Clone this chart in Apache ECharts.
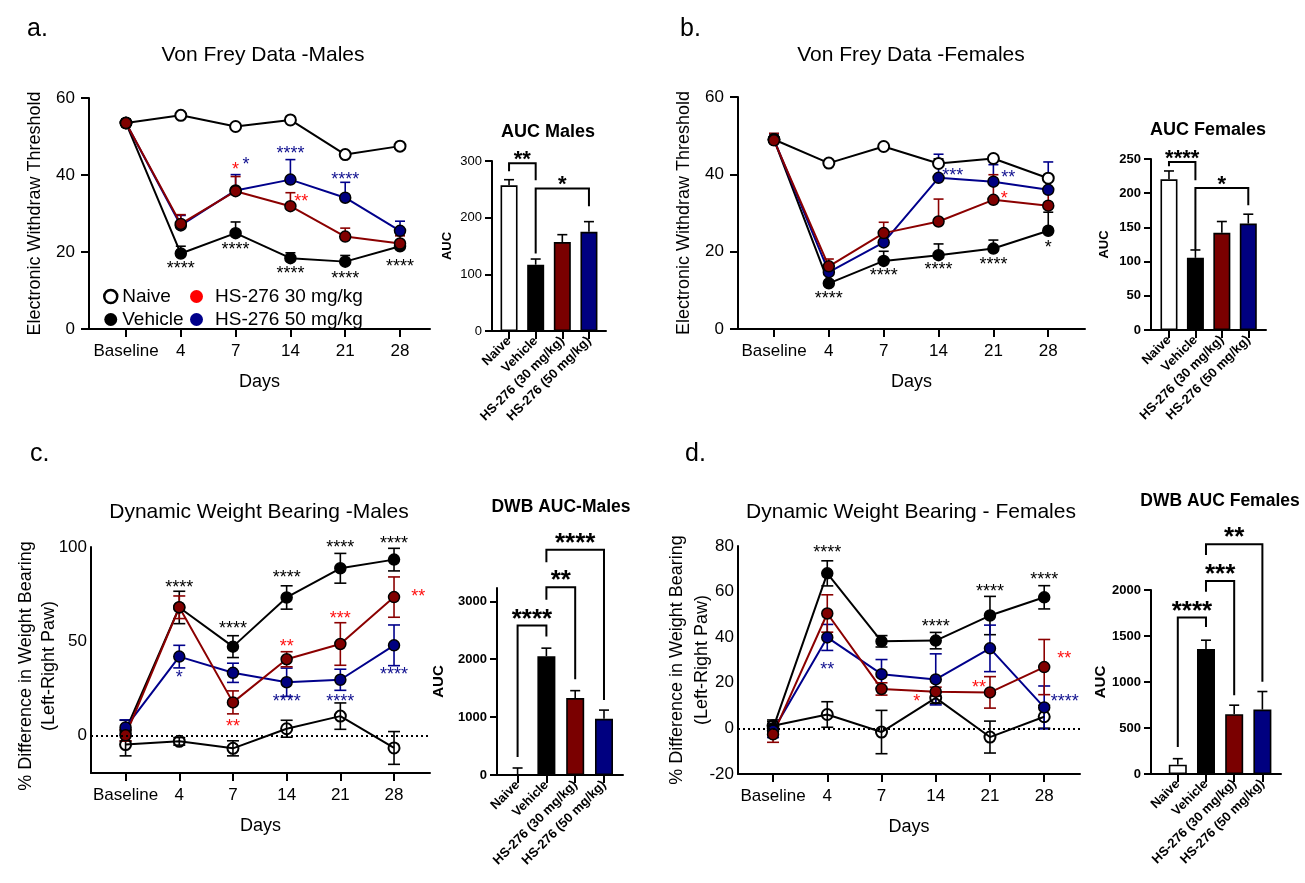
<!DOCTYPE html>
<html><head><meta charset="utf-8">
<script src="https://cdn.jsdelivr.net/npm/echarts@6/dist/echarts.min.js"></script>
<style>html,body{margin:0;padding:0;background:#fff}#c{width:1305px;height:883px}</style>
</head><body><div id="c"></div>
<script>
// ---------- DATA ----------
const days = ['Baseline', '4', '7', '14', '21', '28'];
const groups = ['Naive', 'Vehicle', 'HS-276 (30 mg/kg)', 'HS-276 (50 mg/kg)'];
const legendNames = ['Naive', 'Vehicle', 'HS-276 30 mg/kg', 'HS-276 50 mg/kg'];

// a. Von Frey - Males
const vfM_naive = [53.5, 55.5, 52.6, 54.3, 45.3, 47.5];
const vfM_naiveErr = [0.8, 0.6, 0.6, 0.6, 0.7, 0.6];
const vfM_veh = [53.5, 19.6, 24.9, 18.4, 17.5, 21.5];
const vfM_vehErr = [1.0, 1.9, 2.9, 1.4, 1.6, 0.8];
const vfM_hs30 = [53.5, 27.3, 35.8, 31.9, 24.0, 22.2];
const vfM_hs30Err = [0.8, 2.4, 3.8, 3.5, 2.2, 2.0];
const vfM_hs50 = [53.5, 26.9, 36.0, 38.8, 34.1, 25.5];
const vfM_hs50Err = [0.8, 2.6, 4.1, 5.2, 4.0, 2.5];
const vfM_stars = [[1, 16.5, '****', 'k'], [2, 21.5, '****', 'k'], [3, 15.4, '****', 'k'], [4, 14.1, '****', 'k'], [5, 17.1, '****', 'k'],
  [2, 42.4, '*', 'r'], [2.19, 43.7, '*', 'b'], [3, 46.4, '****', 'b'], [3.2, 34.0, '**', 'r'], [4, 39.7, '****', 'b']];
const aucM = [257, 117, 157, 175];
const aucMErr = [10, 10, 13, 18];
const aucM_br = [[0, 1, 296, 282, 266, '**'], [1, 3, 251.6, 136.7, 220, '*']];

// b. Von Frey - Females
const vfF_naive = [49.0, 42.9, 47.2, 42.8, 44.1, 39.0];
const vfF_naiveErr = [1.0, 0.5, 0.6, 1.2, 0.8, 0.8];
const vfF_veh = [49.0, 11.8, 17.6, 19.1, 20.8, 25.4];
const vfF_vehErr = [1.5, 0.8, 2.5, 2.9, 2.2, 4.8];
const vfF_hs30 = [48.8, 16.2, 24.8, 27.8, 33.4, 31.9];
const vfF_hs30Err = [1.8, 1.9, 2.8, 5.8, 6.5, 3.3];
const vfF_hs50 = [49.0, 14.7, 22.4, 39.1, 38.1, 36.0];
const vfF_hs50Err = [1.5, 1.5, 2.0, 6.1, 4.4, 7.2];
const vfF_stars = [[1, 8.9, '****', 'k'], [2, 14.7, '****', 'k'], [3, 16.4, '****', 'k'], [4, 17.7, '****', 'k'], [5, 22.1, '*', 'k'],
  [3.26, 40.5, '***', 'b'], [4.27, 40.2, '**', 'b'], [4.2, 34.7, '*', 'r']];
const aucF = [220.3, 105.5, 142, 155.6];
const aucFErr = [12.2, 11.5, 16.6, 13.7];
const aucF_br = [[0, 1, 245.6, 239.3, 219, '****'], [1, 3, 207.7, 117.2, 182.4, '*']];

// c. Dynamic Weight Bearing - Males
const dwbM_naive = [-4.9, -3.2, -6.9, 3.5, 10.2, -6.7];
const dwbM_naiveErr = [6.0, 2.0, 4.0, 4.5, 7.0, 8.7];
const dwbM_veh = [2.5, 67.9, 47.1, 73.2, 88.7, 93.3];
const dwbM_vehErr = [5.5, 8.6, 5.8, 6.2, 7.9, 6.0];
const dwbM_hs30 = [0.0, 68.0, 17.5, 40.4, 48.5, 73.4];
const dwbM_hs30Err = [3.0, 6.0, 6.1, 4.0, 11.3, 10.7];
const dwbM_hs50 = [4.2, 41.8, 33.2, 28.2, 29.5, 47.8];
const dwbM_hs50Err = [4.0, 6.0, 5.1, 7.5, 5.6, 10.8];
const dwbM_stars = [[1, 80.6, '****', 'k'], [2, 58.4, '****', 'k'], [3, 85.9, '****', 'k'], [4, 101.8, '****', 'k'], [5, 103.5, '****', 'k'],
  [2, 6.5, '**', 'r'], [3, 48.9, '**', 'r'], [4, 63.8, '***', 'r'], [5.45, 75.8, '**', 'r'],
  [1, 32.5, '*', 'b'], [3, 19.8, '****', 'b'], [4, 19.8, '****', 'b'], [5, 33.9, '****', 'b']];
const dwbAucM = [0, 2052, 1329, 971];
const dwbAucMErr = [121, 139, 128, 150];
const dwbAucM_br = [[0, 1, 2584, 312, 2393, '****'], [1, 2, 3243, 3029, 1653, '**'], [1, 3, 3890, 3676, 1295, '****']];

// d. Dynamic Weight Bearing - Females
const dwbF_naive = [1.2, 6.1, -1.6, 13.4, -3.8, 5.1];
const dwbF_naiveErr = [2.5, 5.6, 9.5, 2.5, 7.0, 5.0];
const dwbF_veh = [0.0, 68.0, 38.2, 38.5, 49.5, 57.5];
const dwbF_vehErr = [3.0, 5.5, 2.5, 3.6, 8.4, 5.1];
const dwbF_hs30 = [-2.6, 50.4, 17.3, 16.1, 15.8, 26.9];
const dwbF_hs30Err = [3.5, 8.2, 2.7, 2.0, 6.9, 12.1];
const dwbF_hs50 = [-1.0, 39.9, 23.8, 21.5, 35.1, 9.2];
const dwbF_hs50Err = [3.0, 5.7, 6.4, 11.2, 10.2, 9.4];
const dwbF_stars = [[1, 78.5, '****', 'k'], [3, 46.3, '****', 'k'], [4, 61.4, '****', 'k'], [5, 66.8, '****', 'k'],
  [1, 27.5, '**', 'b'], [5.38, 13.2, '****', 'b'],
  [2.65, 13.2, '*', 'r'], [3.8, 19.3, '**', 'r'], [5.37, 32.2, '**', 'r']];
const dwbAucF = [101.6, 1357.5, 650, 700.5];
const dwbAucFErr = [65, 97, 98, 196];
const dwbAucF_br = [[0, 1, 1702, 294, 1597, '****'], [1, 2, 2098, 1982, 857, '***'], [1, 3, 2497, 2381, 1002, '**']];

// ---------- STYLE ----------
const F = '"Liberation Sans", Arial, Helvetica, sans-serif';
const LINE = { naive: '#000', veh: '#000', hs30: '#8b0000', hs50: '#00008b' };
const FILL = { hs30: '#800000', hs50: '#000080' };
const STAR = { k: '#000', r: '#ff1010', b: '#10108f' };
const BARFILL = ['#ffffff', '#000000', '#7a0000', '#000080'];

const chart = echarts.init(document.getElementById('c'), null, { renderer: 'canvas' });

const grids = [
  { left: 89, top: 98, width: 341, height: 231 },
  { left: 492, top: 161, width: 114, height: 170 },
  { left: 738, top: 97, width: 347, height: 232 },
  { left: 1151, top: 159, width: 115, height: 171 },
  { left: 91, top: 547, width: 339, height: 226 },
  { left: 497, top: 588, width: 126, height: 187 },
  { left: 738, top: 546, width: 342, height: 228 },
  { left: 1151, top: 590, width: 130, height: 184 }
];

const axLine = { show: true, onZero: false, lineStyle: { color: '#000', width: 2 } };
const idx6 = [0, 1, 2, 3, 4, 5];
const idx4 = [0, 1, 2, 3];

function lineX(g, min, max) {
  return {
    type: 'value', gridIndex: g, min, max, axisLine: axLine,
    axisTick: { show: true, customValues: idx6, length: 8, lineStyle: { color: '#000', width: 2 } },
    axisLabel: { customValues: idx6, formatter: v => days[Math.round(v)], fontSize: 17, color: '#000', fontFamily: F, margin: 14 },
    splitLine: { show: false },
    name: 'Days', nameLocation: 'middle', nameGap: 44,
    nameTextStyle: { fontSize: 18, color: '#000', fontFamily: F }
  };
}
function barX(g, min, max) {
  return {
    type: 'value', gridIndex: g, min, max, axisLine: axLine,
    axisTick: { show: true, customValues: idx4, length: 8, lineStyle: { color: '#000', width: 2 } },
    axisLabel: { customValues: idx4, formatter: v => groups[Math.round(v)], rotate: 45, fontSize: 13, fontWeight: 'bold', color: '#000', fontFamily: F, margin: 8 },
    splitLine: { show: false }
  };
}
function yAx(g, o) {
  const a = {
    type: 'value', gridIndex: g, min: o.min, max: o.max,
    axisLine: axLine,
    axisTick: { show: o.noTick ? false : true, length: o.tl || 8, lineStyle: { color: '#000', width: 2 } },
    axisLabel: { fontSize: o.fs || 17, fontWeight: o.bold ? 'bold' : 'normal', color: '#000', fontFamily: F, margin: o.margin || 14, formatter: v => String(v) },
    splitLine: { show: false }
  };
  if (o.name) {
    a.name = o.name; a.nameLocation = 'middle'; a.nameGap = o.gap;
    a.nameTextStyle = { fontSize: o.nfs || 18, fontWeight: o.nbold ? 'bold' : 'normal', color: '#000', fontFamily: F };
  }
  if (o.interval) a.interval = o.interval;
  if (o.ticks) { a.axisTick.customValues = o.ticks; a.axisLabel.customValues = o.ticks; }
  return a;
}

const xAxes = [
  lineX(0, -0.675, 5.547), barX(1, -0.64, 3.64),
  lineX(2, -0.656, 5.67), barX(3, -0.68, 3.67),
  lineX(4, -0.644, 5.67), barX(5, -0.715, 3.66),
  lineX(6, -0.646, 5.66), barX(7, -0.95, 3.66)
];
const yAxes = [
  yAx(0, { min: 0, max: 60, interval: 20, name: 'Electronic Withdraw Threshold', gap: 45 }),
  yAx(1, { min: 0, max: 300, interval: 100, name: 'AUC', gap: 38, fs: 13, nfs: 13, nbold: true, margin: 10, tl: 7 }),
  yAx(2, { min: 0, max: 60, interval: 20, name: 'Electronic Withdraw Threshold', gap: 45 }),
  yAx(3, { min: 0, max: 250, interval: 50, name: 'AUC', gap: 40, fs: 13, bold: true, nfs: 13, nbold: true, margin: 10, tl: 7 }),
  yAx(4, { min: -20, max: 100, ticks: [0, 50, 100], noTick: true, margin: 4 }),
  yAx(5, { min: 0, max: 3230, ticks: [0, 1000, 2000, 3000], name: 'AUC', gap: 51, fs: 13, bold: true, nfs: 15, nbold: true, margin: 10, tl: 7 }),
  yAx(6, { min: -20, max: 80, interval: 20, noTick: true, margin: 4 }),
  yAx(7, { min: 0, max: 2000, interval: 500, name: 'AUC', gap: 39, fs: 13, bold: true, nfs: 15, nbold: true, margin: 10, tl: 7 })
];

function errRender(both, cap, lw) {
  return function (params, api) {
    const x = api.value(0), y = api.value(1), e = api.value(2);
    const p1 = api.coord([x, y + e]);
    const p0 = api.coord([x, both ? y - e : y]);
    const st = { stroke: api.visual('color'), lineWidth: lw };
    const ch = [
      { type: 'line', shape: { x1: p1[0], y1: p1[1], x2: p0[0], y2: p0[1] }, style: st },
      { type: 'line', shape: { x1: p1[0] - cap / 2, y1: p1[1], x2: p1[0] + cap / 2, y2: p1[1] }, style: st }
    ];
    if (both) ch.push({ type: 'line', shape: { x1: p0[0] - cap / 2, y1: p0[1], x2: p0[0] + cap / 2, y2: p0[1] }, style: st });
    return { type: 'group', children: ch };
  };
}
function errSeries(g, vals, errs, color, both, cap) {
  return {
    type: 'custom', xAxisIndex: g, yAxisIndex: g, silent: true,
    itemStyle: { color }, data: vals.map((v, i) => [i, v, errs[i]]),
    encode: { x: 0, y: 1 }, renderItem: errRender(both, cap, 1.6)
  };
}
function lineSeries(g, name, vals, lineColor, fill, border, extra) {
  const s = {
    type: 'line', name, xAxisIndex: g, yAxisIndex: g, silent: true,
    data: vals.map((v, i) => [i, v]),
    symbol: 'circle', symbolSize: 11, showSymbol: true,
    lineStyle: { color: lineColor, width: 2 },
    itemStyle: { color: fill, borderColor: '#000', borderWidth: border },
    emphasis: { disabled: true }
  };
  return Object.assign(s, extra || {});
}
function starSeries(g, stars, fs) {
  return {
    type: 'custom', xAxisIndex: g, yAxisIndex: g, silent: true, z: 10,
    data: stars.map(s => [s[0], s[1]]), encode: { x: 0, y: 1 },
    renderItem: function (params, api) {
      const s = stars[params.dataIndex];
      const p = api.coord([api.value(0), api.value(1)]);
      return { type: 'text', x: p[0], y: p[1] + 4, style: { text: s[2], fill: STAR[s[3]], font: fs + 'px ' + F, textAlign: 'center', textVerticalAlign: 'middle', align: 'center', verticalAlign: 'middle' } };
    }
  };
}
function bracketSeries(g, list, fs, lift) {
  return {
    type: 'custom', xAxisIndex: g, yAxisIndex: g, silent: true, z: 10,
    data: list.map(b => [b[0], b[2]]), encode: { x: 0, y: 1 },
    renderItem: function (params, api) {
      const b = list[params.dataIndex];
      const pl = api.coord([b[0], b[2]]), pr = api.coord([b[1], b[2]]);
      const l2 = api.coord([b[0], b[3]]), r2 = api.coord([b[1], b[4]]);
      return {
        type: 'group', children: [
          { type: 'polyline', shape: { points: [[l2[0], l2[1]], [pl[0], pl[1]], [pr[0], pr[1]], [r2[0], r2[1]]] }, style: { stroke: '#000', lineWidth: 2, fill: null } },
          { type: 'text', x: (pl[0] + pr[0]) / 2, y: pl[1] - lift, style: { text: b[5], fill: '#000', font: 'bold ' + fs + 'px ' + F, textAlign: 'center', textVerticalAlign: 'middle', align: 'center', verticalAlign: 'middle' } }
        ]
      };
    }
  };
}
function barSeries(g, vals, errs, bw) {
  return [{
    type: 'bar', xAxisIndex: g, yAxisIndex: g, silent: true, barWidth: bw,
    data: vals.map((v, i) => ({ value: [i, v], itemStyle: { color: BARFILL[i] } })),
    itemStyle: { borderColor: '#000', borderWidth: 1.6 }
  }, errSeries(g, vals, errs, '#000', false, 10)];
}

const zeroLine = { markLine: { silent: true, symbol: 'none', label: { show: false }, lineStyle: { type: [2, 3], color: '#000', width: 2 }, data: [{ yAxis: 0 }] } };

function linePanel(g, d, both, naiveFill, cap, extraNaive) {
  return [
    errSeries(g, d.naive, d.naiveErr, '#000', both, cap),
    lineSeries(g, legendNames[0], d.naive, LINE.naive, naiveFill, 2, extraNaive),
    errSeries(g, d.veh, d.vehErr, '#000', both, cap),
    lineSeries(g, legendNames[1], d.veh, LINE.veh, '#000', 1.5),
    errSeries(g, d.hs50, d.hs50Err, LINE.hs50, both, cap),
    lineSeries(g, legendNames[3], d.hs50, LINE.hs50, FILL.hs50, 1.5),
    errSeries(g, d.hs30, d.hs30Err, LINE.hs30, both, cap),
    lineSeries(g, legendNames[2], d.hs30, LINE.hs30, FILL.hs30, 1.5)
  ];
}

const series = [].concat(
  linePanel(0, { naive: vfM_naive, naiveErr: vfM_naiveErr, veh: vfM_veh, vehErr: vfM_vehErr, hs30: vfM_hs30, hs30Err: vfM_hs30Err, hs50: vfM_hs50, hs50Err: vfM_hs50Err }, false, '#fff', 10),
  [starSeries(0, vfM_stars, 18)],
  barSeries(1, aucM, aucMErr, 17), [bracketSeries(1, aucM_br, 22, 3)],
  linePanel(2, { naive: vfF_naive, naiveErr: vfF_naiveErr, veh: vfF_veh, vehErr: vfF_vehErr, hs30: vfF_hs30, hs30Err: vfF_hs30Err, hs50: vfF_hs50, hs50Err: vfF_hs50Err }, false, '#fff', 10),
  [starSeries(2, vfF_stars, 18)],
  barSeries(3, aucF, aucFErr, 17), [bracketSeries(3, aucF_br, 22, 3)],
  linePanel(4, { naive: dwbM_naive, naiveErr: dwbM_naiveErr, veh: dwbM_veh, vehErr: dwbM_vehErr, hs30: dwbM_hs30, hs30Err: dwbM_hs30Err, hs50: dwbM_hs50, hs50Err: dwbM_hs50Err }, true, 'rgba(255,255,255,0)', 12, zeroLine),
  [starSeries(4, dwbM_stars, 18)],
  barSeries(5, dwbAucM, dwbAucMErr, 18), [bracketSeries(5, dwbAucM_br, 26, 6)],
  linePanel(6, { naive: dwbF_naive, naiveErr: dwbF_naiveErr, veh: dwbF_veh, vehErr: dwbF_vehErr, hs30: dwbF_hs30, hs30Err: dwbF_hs30Err, hs50: dwbF_hs50, hs50Err: dwbF_hs50Err }, true, 'rgba(255,255,255,0)', 12, zeroLine),
  [starSeries(6, dwbF_stars, 18)],
  barSeries(7, dwbAucF, dwbAucFErr, 18), [bracketSeries(7, dwbAucF_br, 26, 6)]
);

function txt(text, x, y, size, weight, align, rot, lh) {
  const t = { type: 'text', x, y, silent: true, style: { text, fill: '#000', font: (weight || 'normal') + ' ' + size + 'px ' + F, textAlign: align || 'center', textVerticalAlign: 'middle', align: align || 'center', verticalAlign: 'middle' } };
  if (rot) t.rotation = rot;
  if (lh) t.style.lineHeight = lh;
  return t;
}
const dwbName = '% Difference in Weight Bearing\n(Left-Right Paw)';
const graphic = [
  txt('a.', 27, 29, 25, 'normal', 'left'),
  txt('b.', 680, 29, 25, 'normal', 'left'),
  txt('c.', 30, 454, 25, 'normal', 'left'),
  txt('d.', 685, 454, 25, 'normal', 'left'),
  txt('Von Frey Data -Males', 263, 55, 21),
  txt('Von Frey Data -Females', 911, 55, 21),
  txt('Dynamic Weight Bearing -Males', 259, 512, 21),
  txt('Dynamic Weight Bearing - Females', 911, 512, 21),
  txt('AUC Males', 548, 132, 18, 'bold'),
  txt('AUC Females', 1208, 130, 18, 'bold'),
  txt('DWB AUC-Males', 561, 507, 17.5, 'bold'),
  txt('DWB AUC Females', 1220, 501, 17.5, 'bold'),
  txt(dwbName, 38, 666, 18, 'normal', 'center', Math.PI / 2, 23),
  txt(dwbName, 690, 660, 18, 'normal', 'center', Math.PI / 2, 25)
];

const legTxt = { fontSize: 19, fontFamily: F, color: '#000', lineHeight: 19 };
const option = {
  animation: false,
  backgroundColor: '#fff',
  grid: grids,
  xAxis: xAxes,
  yAxis: yAxes,
  series,
  graphic,
  legend: [
    {
      left: 98, top: 282, orient: 'vertical', itemGap: 4, itemWidth: 13, itemHeight: 13, selectedMode: false, textStyle: legTxt,
      data: [
        { name: legendNames[0], icon: 'circle', itemStyle: { color: '#fff', borderColor: '#000', borderWidth: 2.5 } },
        { name: legendNames[1], icon: 'circle', itemStyle: { color: '#000', borderColor: '#000', borderWidth: 0 } }
      ]
    },
    {
      left: 185, top: 282, orient: 'vertical', itemGap: 4, itemWidth: 13, itemHeight: 13, selectedMode: false,
      textStyle: Object.assign({}, legTxt, { padding: [0, 0, 0, 7] }),
      data: [
        { name: legendNames[2], icon: 'circle', itemStyle: { color: '#ff0000', borderWidth: 0 } },
        { name: legendNames[3], icon: 'circle', itemStyle: { color: '#00008b', borderWidth: 0 } }
      ]
    }
  ]
};
chart.setOption(option);
</script>
</body></html>
